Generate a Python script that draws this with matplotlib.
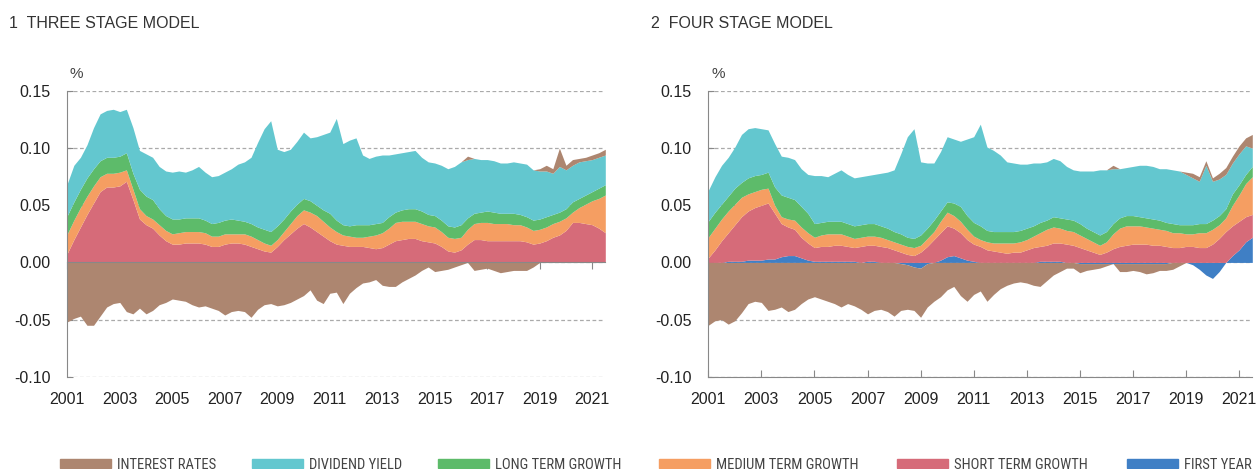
import numpy as np
import matplotlib
matplotlib.use("Agg")
import matplotlib.pyplot as plt
from matplotlib.patches import Rectangle
from matplotlib import ticker

plt.rcParams["font.family"] = ["Liberation Sans", "DejaVu Sans"]
plt.rcParams["axes.unicode_minus"] = False

# quarterly observations, 2001Q1 .. 2021Q3 (decimal years)
dates = 2001 + 0.25 * np.arange(83)

# ---- 1 three stage model: contributions (one row per year)
three_short = [
    .008, .020, .031, .042, .052, .062, .066, .066, .067, .071, .055, .038,
    .033, .030, .024, .019, .016, .016, .017, .017, .017, .016, .014, .014,
    .016, .017, .017, .016, .014, .012, .010, .009, .014, .020, .025, .030,
    .034, .031, .027, .023, .019, .016, .015, .014, .014, .014, .013, .012,
    .013, .016, .019, .020, .021, .021, .019, .018, .017, .014, .010, .009,
    .011, .016, .020, .020, .019, .019, .019, .019, .019, .019, .018, .016,
    .017, .019, .022, .024, .028, .035, .035, .034, .033, .030, .026,
]
three_medium = [
    .017, .017, .017, .016, .015, .013, .012, .012, .012, .010, .009, .009,
    .008, .008, .009, .009, .009, .010, .010, .010, .010, .010, .009, .009,
    .009, .008, .008, .009, .009, .008, .007, .006, .006, .007, .009, .011,
    .012, .013, .014, .013, .012, .011, .009, .009, .008, .008, .010, .012,
    .013, .014, .016, .016, .015, .015, .015, .014, .014, .013, .012, .012,
    .011, .013, .014, .015, .016, .015, .015, .015, .014, .014, .013, .012,
    .012, .012, .012, .012, .011, .009, .013, .017, .021, .026, .033,
]
three_long = [
    .016, .016, .016, .016, .015, .014, .014, .014, .014, .015, .014, .017,
    .017, .017, .014, .013, .013, .012, .012, .012, .012, .011, .011, .012,
    .012, .013, .012, .011, .011, .011, .012, .012, .012, .011, .011, .010,
    .010, .010, .009, .010, .012, .010, .009, .009, .011, .011, .010, .010,
    .009, .010, .009, .010, .011, .011, .011, .010, .010, .010, .010, .010,
    .011, .010, .009, .009, .010, .010, .009, .009, .010, .009, .009, .009,
    .009, .009, .008, .008, .008, .009, .008, .008, .008, .009, .009,
]
three_dividend = [
    .028, .032, .028, .029, .036, .041, .041, .042, .039, .038, .040, .034,
    .037, .037, .037, .039, .041, .042, .040, .042, .045, .042, .041, .041,
    .042, .044, .049, .052, .058, .074, .088, .097, .067, .059, .054, .055,
    .058, .055, .060, .066, .071, .089, .071, .075, .076, .061, .058, .059,
    .059, .054, .051, .050, .050, .051, .047, .046, .046, .048, .050, .053,
    .055, .051, .048, .046, .045, .045, .044, .044, .045, .045, .046, .044,
    .042, .040, .036, .040, .034, .032, .032, .030, .028, .027, .026,
]
three_interest = [
    -.052, -.049, -.047, -.055, -.055, -.047, -.039, -.036, -.035, -.043, -.045, -.040,
    -.045, -.042, -.037, -.035, -.032, -.033, -.034, -.037, -.039, -.038, -.040, -.042,
    -.046, -.043, -.042, -.043, -.048, -.041, -.037, -.036, -.038, -.037, -.035, -.032,
    -.029, -.024, -.033, -.036, -.027, -.026, -.036, -.027, -.022, -.018, -.017, -.015,
    -.020, -.021, -.021, -.017, -.014, -.011, -.007, -.004, -.008, -.007, -.006, -.004,
    -.002, .003, -.007, -.006, -.005, -.007, -.009, -.008, -.007, -.007, -.007, -.004,
    .002, .005, .004, .016, .004, .005, .003, .003, .004, .004, .005,
]

# ---- 2 four stage model
four_first = [
    .000, .000, .000, .001, .001, .001, .002, .002, .002, .003, .003, .005,
    .006, .006, .004, .002, .001, .001, .001, .001, .001, .001, .001, .000,
    .001, .001, .000, .000, .000, -.001, -.002, -.004, -.005, -.001, .000, .002,
    .005, .006, .004, .002, .001, .000, .000, .000, .000, .000, .000, .000,
    .000, .000, .001, .001, .001, .001, .000, .000, -.001, -.001, -.001, -.001,
    -.001, -.001, -.001, -.001, -.001, -.001, -.001, -.001, -.001, -.001, .000, .000,
    .000, -.002, -.006, -.011, -.014, -.008, .000, .006, .011, .018, .022,
]
four_short = [
    .004, .011, .019, .025, .032, .039, .043, .046, .048, .049, .040, .029,
    .025, .023, .018, .015, .012, .013, .013, .014, .014, .013, .012, .014,
    .014, .014, .014, .013, .011, .009, .007, .006, .009, .014, .020, .024,
    .027, .024, .022, .018, .015, .014, .011, .010, .009, .008, .009, .009,
    .011, .013, .013, .014, .016, .016, .016, .015, .013, .011, .009, .007,
    .009, .012, .014, .015, .016, .016, .016, .015, .015, .014, .013, .013,
    .014, .014, .013, .013, .016, .021, .027, .026, .025, .022, .020,
]
four_medium = [
    .018, .019, .019, .019, .018, .017, .015, .014, .014, .013, .007, .006,
    .007, .008, .009, .009, .009, .010, .011, .010, .010, .009, .008, .008,
    .008, .008, .008, .007, .007, .007, .007, .007, .006, .007, .007, .010,
    .012, .011, .010, .009, .007, .006, .007, .007, .008, .009, .008, .009,
    .009, .010, .012, .014, .014, .013, .012, .012, .011, .010, .009, .008,
    .009, .013, .016, .017, .016, .016, .015, .015, .014, .014, .013, .013,
    .011, .011, .013, .013, .013, .012, .012, .018, .023, .029, .033,
]
four_long = [
    .014, .014, .013, .013, .014, .013, .014, .014, .013, .014, .016, .019,
    .019, .018, .018, .017, .012, .011, .011, .011, .011, .011, .011, .011,
    .011, .011, .010, .010, .009, .009, .008, .008, .009, .009, .010, .009,
    .009, .011, .013, .012, .012, .012, .010, .010, .010, .010, .010, .010,
    .010, .009, .009, .008, .009, .009, .010, .010, .010, .009, .009, .009,
    .009, .009, .009, .009, .009, .008, .008, .008, .008, .007, .008, .007,
    .008, .008, .008, .008, .008, .008, .008, .010, .009, .008, .009,
]
four_dividend = [
    .027, .031, .034, .034, .036, .042, .043, .042, .040, .037, .038, .034,
    .035, .035, .033, .034, .042, .041, .039, .042, .045, .043, .042, .042,
    .042, .043, .046, .049, .054, .070, .088, .096, .064, .057, .050, .052,
    .057, .056, .057, .067, .075, .089, .073, .071, .067, .061, .060, .058,
    .056, .055, .052, .051, .051, .050, .046, .044, .046, .050, .053, .057,
    .054, .048, .043, .042, .043, .045, .046, .046, .045, .047, .047, .047,
    .044, .041, .037, .051, .034, .032, .030, .027, .027, .025, .016,
]
four_interest = [
    -.055, -.051, -.050, -.054, -.051, -.044, -.036, -.034, -.035, -.042, -.041, -.039,
    -.043, -.041, -.036, -.032, -.030, -.032, -.034, -.036, -.039, -.036, -.038, -.041,
    -.045, -.042, -.041, -.043, -.047, -.041, -.039, -.038, -.043, -.038, -.034, -.030,
    -.024, -.021, -.029, -.034, -.028, -.025, -.034, -.028, -.023, -.020, -.018, -.017,
    -.018, -.020, -.021, -.016, -.011, -.008, -.005, -.005, -.008, -.006, -.005, -.004,
    -.002, .003, -.007, -.007, -.006, -.007, -.009, -.008, -.006, -.006, -.006, -.003,
    .002, .004, .004, .004, .003, .005, .006, .006, .007, .007, .012,
]

LABELS = ["INTEREST RATES", "DIVIDEND YIELD", "LONG TERM GROWTH",
          "MEDIUM TERM GROWTH", "SHORT TERM GROWTH", "FIRST YEAR"]
C_INT = "#ad8670"
C_DIV = "#63c7cf"
C_LONG = "#5dbb6a"
C_MED = "#f59e62"
C_SHORT = "#d66b79"
C_FIRST = "#3f7fc5"
COLORS = [C_INT, C_DIV, C_LONG, C_MED, C_SHORT, C_FIRST]

GRID = "#aaaaaa"
SPINE = "#888888"
TEXT = "#222222"
LEGEND_FONT = ["Roboto Condensed", "Archivo Narrow", "Liberation Sans"]


def diverging_stack(ax, x, series, colors):
    # positives stack upward from zero, negatives downward
    pos_base = np.zeros(len(x))
    neg_base = np.zeros(len(x))
    for values, color in zip(series, colors):
        v = np.asarray(values, dtype=float)
        pos = np.clip(v, 0, None)
        neg = np.clip(v, None, 0)
        ax.fill_between(x, pos_base, pos_base + pos, color=color, lw=0, zorder=1)
        ax.fill_between(x, neg_base, neg_base + neg, color=color, lw=0, zorder=1)
        pos_base = pos_base + pos
        neg_base = neg_base + neg


def style_axes(ax):
    ax.set_xlim(2001, 2021.5)
    ax.set_ylim(-0.10, 0.15)
    ax.set_yticks([-0.10, -0.05, 0.0, 0.05, 0.10, 0.15])
    ax.yaxis.set_major_formatter(ticker.FormatStrFormatter("%.2f"))
    ax.set_xticks(range(2001, 2022, 2))
    ax.grid(axis="y", ls=(0, (3, 2)), color=GRID, lw=0.9)
    ax.grid(axis="x", visible=False)
    ax.set_axisbelow(True)
    for s in ["top", "right"]:
        ax.spines[s].set_visible(False)
    ax.spines["left"].set_color(SPINE)
    ax.spines["bottom"].set_color(SPINE)
    ax.tick_params(axis="y", direction="in", length=4, color=SPINE,
                   labelsize=11.5, labelcolor=TEXT, pad=12)
    ax.tick_params(axis="x", color=SPINE, labelsize=11.5, labelcolor=TEXT)


fig = plt.figure(figsize=(12.56, 4.69), dpi=100)
W, H = 1256, 469

ax1 = fig.add_axes([67.3 / W, (H - 376.7) / H, 538 / W, 285.7 / H])
diverging_stack(ax1, dates,
                [three_short, three_medium, three_long, three_dividend, three_interest],
                [C_SHORT, C_MED, C_LONG, C_DIV, C_INT])
style_axes(ax1)
ax1.spines["bottom"].set_position(("data", 0))
ax1.tick_params(axis="x", direction="out", length=5, pad=88)

ax2 = fig.add_axes([708.3 / W, (H - 376.7) / H, 544 / W, 285.7 / H])
diverging_stack(ax2, dates,
                [four_first, four_short, four_medium, four_long, four_dividend, four_interest],
                [C_FIRST, C_SHORT, C_MED, C_LONG, C_DIV, C_INT])
style_axes(ax2)
ax2.tick_params(axis="x", direction="in", length=5, pad=11)

fig.text(9 / W, 1 - 28.3 / H, "1  THREE STAGE MODEL", fontsize=11.5,
         color="#333333", va="baseline")
fig.text(651 / W, 1 - 28.3 / H, "2  FOUR STAGE MODEL", fontsize=11.5,
         color="#333333", va="baseline")
fig.text(70 / W, 1 - 78.3 / H, "%", fontsize=11, color="#444444", va="baseline")
fig.text(711 / W, 1 - 78.3 / H, "%", fontsize=11, color="#444444", va="baseline")

# legend drawn along the bottom edge
legend_x = [60, 252, 438, 659, 897, 1127]
for label, color, x0 in zip(LABELS, COLORS, legend_x):
    fig.patches.append(Rectangle((x0 / W, 1 - 468 / H), 51 / W, 9 / H,
                                 transform=fig.transFigure, color=color))
    fig.text((x0 + 57) / W, 1 - 468.5 / H, label, fontsize=10.5, color="#444444",
             va="baseline", family=LEGEND_FONT)

fig.savefig("out.png", dpi=100)
